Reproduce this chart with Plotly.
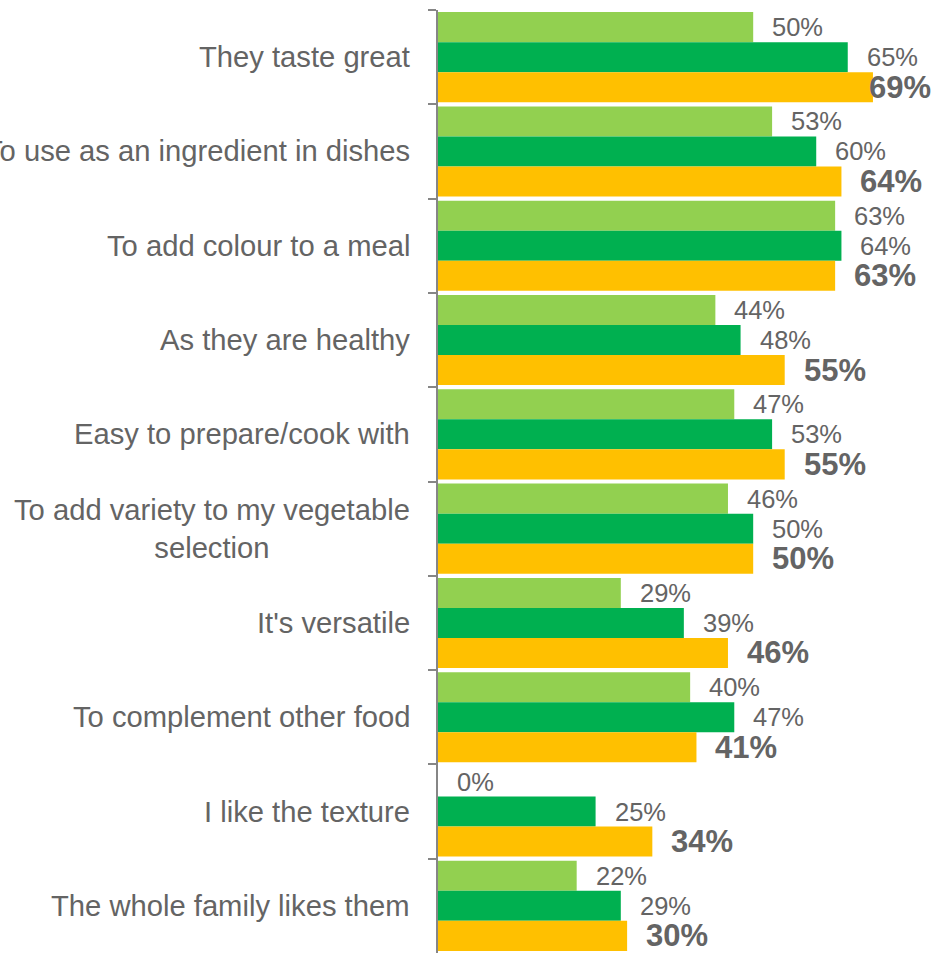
import plotly.graph_objects as go

categories = [
    "They taste great",
    "To use as an ingredient in dishes",
    "To add colour to a meal",
    "As they are healthy",
    "Easy to prepare/cook with",
    "To add variety to my vegetable<br>selection",
    "It's versatile",
    "To complement other food",
    "I like the texture",
    "The whole family likes them",
]
series_names = ["Series 1", "Series 2", "Series 3"]
series_a = [50, 53, 63, 44, 47, 46, 29, 40, 0, 22]
series_b = [65, 60, 64, 48, 53, 50, 39, 47, 25, 29]
series_c = [69, 64, 63, 55, 55, 50, 46, 41, 34, 30]

colors = ["#92D050", "#00B050", "#FFC000"]
label_sizes = [25.5, 25.5, 31]
label_bold = [False, False, True]
text_grey = "#646464"
font_family = "Arial, Liberation Sans, sans-serif"

X_MAX = 79
PLOT_LEFT = 438
PLOT_W = 936 - PLOT_LEFT
PX_PER_UNIT = PLOT_W / X_MAX

fig = go.Figure()
all_series = [series_a, series_b, series_c]
for name, vals, col in zip(series_names, all_series, colors):
    fig.add_trace(go.Bar(
        name=name, y=categories, x=vals, orientation="h",
        marker=dict(color=col, line=dict(width=0)),
        showlegend=False, hoverinfo="x+y",
    ))

# value labels beside each bar; the bold third series is kept inside the frame
annotations = []
n_series = len(all_series)
group_frac = 1 - 0.045
for si, vals in enumerate(all_series):
    for ci, v in enumerate(vals):
        txt = f"<b>{v}%</b>" if label_bold[si] else f"{v}%"
        # vertical offset of this bar inside its category group, in category units
        offset = (-group_frac / 2 + group_frac / n_series * (si + 0.5))
        approx_w = 2.0 * label_sizes[si]
        end_px = v * PX_PER_UNIT + 17 + approx_w
        if end_px > PLOT_W - 2:
            annotations.append(dict(
                xref="paper", x=1, xanchor="right", xshift=-3,
                yref="y", y=ci + offset, yanchor="middle",
                text=txt, showarrow=False,
                font=dict(size=label_sizes[si], color=text_grey, family=font_family),
            ))
        else:
            annotations.append(dict(
                xref="x", x=v, xanchor="left", xshift=17,
                yref="y", y=ci + offset, yanchor="middle",
                text=txt, showarrow=False,
                font=dict(size=label_sizes[si], color=text_grey, family=font_family),
            ))

# category labels, centre-aligned when wrapped
for ci, cat in enumerate(categories):
    annotations.append(dict(
        xref="paper", x=0, xanchor="right", xshift=-26,
        yref="y", y=ci, yanchor="middle",
        text=cat, showarrow=False, align="center",
        font=dict(size=29.2, color=text_grey, family=font_family),
    ))

fig.update_layout(
    width=936, height=953,
    margin=dict(l=PLOT_LEFT, r=0, t=10, b=0, autoexpand=False),
    paper_bgcolor="white", plot_bgcolor="white",
    barmode="group", bargap=0.045, bargroupgap=0,
    annotations=annotations,
    xaxis=dict(range=[0, X_MAX], visible=False, showgrid=False, zeroline=False, fixedrange=True),
    yaxis=dict(
        type="category", categoryorder="array", categoryarray=categories,
        range=[len(categories) - 0.5, -0.5],
        showticklabels=False, showgrid=False, zeroline=False,
        showline=True, linecolor="#868686", linewidth=2,
        ticks="outside", tickson="boundaries", ticklen=8, tickwidth=2, tickcolor="#868686",
        fixedrange=True,
    ),
    font=dict(family=font_family, color=text_grey),
)

fig.write_html("out.html")
